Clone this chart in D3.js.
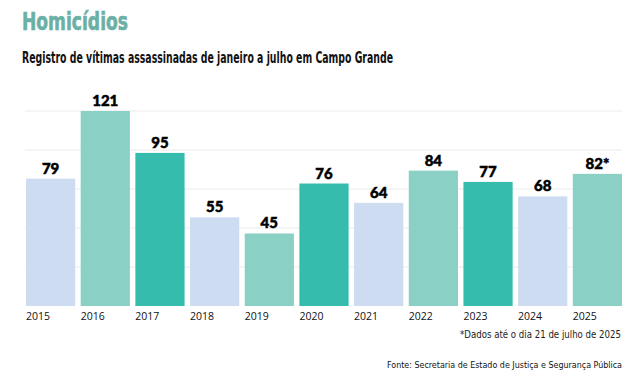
<!DOCTYPE html>
<html>
<head>
<meta charset="utf-8">
<script src="https://cdn.jsdelivr.net/npm/d3@7"></script>
<style>
  body { margin: 0; background: #fff; }
  svg { display: block; }
</style>
</head>
<body>
<svg width="641" height="379"></svg>
<script>
// Dados
var anos = ["2015", "2016", "2017", "2018", "2019", "2020", "2021", "2022", "2023", "2024", "2025"];
var vitimas = [79, 121, 95, 55, 45, 76, 64, 84, 77, 68, 82];
var rotulos = ["79", "121", "95", "55", "45", "76", "64", "84", "77", "68", "82*"];
var linhasGrade = [24.2, 48.4, 72.6, 96.8, 121];

var cores = ["#cddcf1", "#8bd0c5", "#35bcad"];

var svg = d3.select("svg"),
    width = +svg.attr("width"),
    height = +svg.attr("height");

var esquerda = 26, direita = 622, base = 306, topo = 111;

var x = d3.scaleBand()
    .domain(anos)
    .range([esquerda, direita])
    .paddingInner(0.1)
    .paddingOuter(0);

var y = d3.scaleLinear()
    .domain([0, 121])
    .range([base, topo]);

// Titulo e subtitulo
svg.append("text")
    .attr("x", 22)
    .attr("y", 30)
    .attr("textLength", 106)
    .attr("lengthAdjust", "spacingAndGlyphs")
    .style("font-family", "'DejaVu Sans Condensed', 'DejaVu Sans'")
    .style("font-weight", "bold")
    .style("font-size", "24px")
    .style("fill", "#6cb0a5")
    .style("stroke", "#6cb0a5")
    .style("stroke-width", 0.6)
    .text("Homicídios");

svg.append("text")
    .attr("x", 22)
    .attr("y", 63)
    .attr("textLength", 371)
    .attr("lengthAdjust", "spacingAndGlyphs")
    .style("font-family", "'DejaVu Sans Condensed', 'DejaVu Sans'")
    .style("font-weight", "bold")
    .style("font-size", "15px")
    .style("fill", "#111")
    .text("Registro de vítimas assassinadas de janeiro a julho em Campo Grande");

// Grade
svg.append("g")
    .selectAll("line")
    .data(linhasGrade)
    .enter().append("line")
    .attr("x1", esquerda - 1)
    .attr("x2", direita)
    .attr("y1", function(d) { return y(d); })
    .attr("y2", function(d) { return y(d); })
    .style("stroke", "#ececec")
    .style("stroke-width", 1.2);

// Barras
svg.append("g")
    .selectAll("rect")
    .data(vitimas)
    .enter().append("rect")
    .attr("x", function(d, i) { return x(anos[i]); })
    .attr("y", function(d) { return y(d); })
    .attr("width", x.bandwidth())
    .attr("height", function(d) { return base - y(d); })
    .style("fill", function(d, i) { return cores[i % 3]; });

// Valores
svg.append("g")
    .selectAll("text")
    .data(vitimas)
    .enter().append("text")
    .attr("x", function(d, i) { return x(anos[i]) + x.bandwidth() / 2; })
    .attr("y", function(d) { return y(d) - 5; })
    .attr("text-anchor", "middle")
    .style("font-family", "Lato, 'DejaVu Sans'")
    .style("font-weight", "900")
    .style("font-size", "15px")
    .style("fill", "#000")
    .style("stroke", "#000")
    .style("stroke-width", 0.5)
    .text(function(d, i) { return rotulos[i]; });

// Anos
svg.append("g")
    .selectAll("text")
    .data(anos)
    .enter().append("text")
    .attr("x", function(d) { return x(d); })
    .attr("y", 320)
    .style("font-family", "'Open Sans', 'DejaVu Sans'")
    .style("font-weight", "500")
    .style("font-size", "10.5px")
    .style("fill", "#111")
    .text(function(d) { return d; });

// Notas
svg.append("text")
    .attr("x", 460)
    .attr("y", 338)
    .attr("textLength", 161)
    .attr("lengthAdjust", "spacingAndGlyphs")
    .style("font-family", "'DejaVu Sans Condensed', 'DejaVu Sans'")
    .style("font-size", "10.5px")
    .style("fill", "#222")
    .text("*Dados até o dia 21 de julho de 2025");

svg.append("text")
    .attr("x", 387)
    .attr("y", 368)
    .attr("textLength", 235)
    .attr("lengthAdjust", "spacingAndGlyphs")
    .style("font-family", "'DejaVu Sans Condensed', 'DejaVu Sans'")
    .style("font-size", "9.5px")
    .style("fill", "#111")
    .text("Fonte: Secretaria de Estado de Justiça e Segurança Pública");
</script>
</body>
</html>
